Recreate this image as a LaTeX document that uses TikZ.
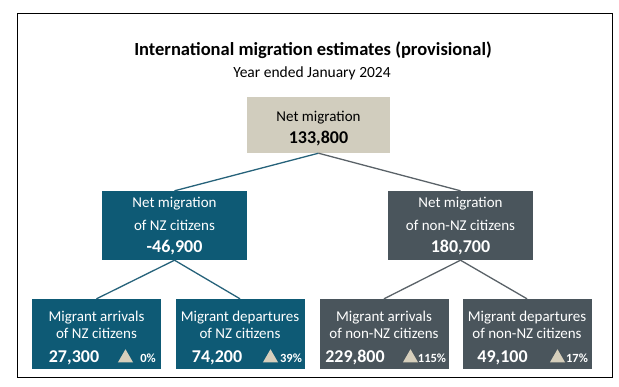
\documentclass[tikz,border=0pt]{standalone}
\usepackage{fontspec}
\setmainfont{Carlito}
\usetikzlibrary{shapes.geometric}
\definecolor{netbeige}{RGB}{209,205,190}
\definecolor{nzteal}{RGB}{14,90,117}
\definecolor{nongrey}{RGB}{74,85,92}
\definecolor{uptan}{RGB}{214,207,188}
\definecolor{nzline}{RGB}{38,98,122}
\definecolor{nonline}{RGB}{90,98,104}
\begin{document}
\begin{tikzpicture}[x=1pt,y=-1pt,
	netbox/.style={fill=netbeige,minimum width=143pt,minimum height=56pt,inner sep=0pt},
	midbox/.style={minimum width=145pt,minimum height=69pt,inner sep=0pt},
	leafbox/.style={minimum width=129pt,minimum height=70pt,inner sep=0pt},
	lbl/.style={anchor=base,inner sep=0pt,text=white,font=\fontsize{15}{18}\selectfont},
	bignum/.style={anchor=base,inner sep=0pt,text=white,font=\bfseries\fontsize{18}{21}\selectfont},
	pct/.style={anchor=base,inner sep=0pt,text=white,font=\bfseries\fontsize{12.5}{14}\selectfont},
	uptri/.style={regular polygon,regular polygon sides=3,minimum size=17.5pt,inner sep=0pt,fill=uptan},
	nzlink/.style={draw=nzline,line width=1.3pt},
	nonlink/.style={draw=nonline,line width=1.3pt}]
	\useasboundingbox (0,0) rectangle (619,386);
	\draw[line width=0.8pt] (17,13) rectangle (612,377);
	% heading
	\node[anchor=base,inner sep=0pt,font=\bfseries\fontsize{18.5}{22}\selectfont] (title) at (313,55) {International migration estimates (provisional)};
	\node[anchor=base,inner sep=0pt,font=\fontsize{15.5}{18}\selectfont] (subtitle) at (312,77) {Year ended January 2024};
	% boxes
	\node[netbox] (net) at (318.5,125) {};
	\node[midbox,fill=nzteal] (nz) at (174.5,225.5) {};
	\node[midbox,fill=nongrey] (non) at (460.5,225.5) {};
	\node[leafbox,fill=nzteal] (nzarr) at (96.5,334) {};
	\node[leafbox,fill=nzteal] (nzdep) at (240,334) {};
	\node[leafbox,fill=nongrey] (nonarr) at (384,334) {};
	\node[leafbox,fill=nongrey] (nondep) at (527,334) {};
	% links
	\draw[nzlink] (net.south) -- (nz.north);
	\draw[nonlink] (net.south) -- (non.north);
	\draw[nzlink] (nz.south) -- (nzarr.north);
	\draw[nzlink] (nz.south) -- (nzdep.north);
	\draw[nonlink] (non.south) -- (nonarr.north);
	\draw[nonlink] (non.south) -- (nondep.north);
	% texts
	\node[lbl,text=black] (netlbl) at (318.5,121) {Net migration};
	\node[bignum,text=black] (netnum) at (318.5,143) {133,800};
	\node[lbl] (nzlbla) at (174.5,207.5) {Net migration};
	\node[lbl] (nzlblb) at (174.5,230.5) {of NZ citizens};
	\node[bignum] (nznum) at (174.5,252) {-46,900};
	\node[lbl] (nonlbla) at (460.5,207.5) {Net migration};
	\node[lbl] (nonlblb) at (460.5,230.5) {of non-NZ citizens};
	\node[bignum] (nonnum) at (460.5,252) {180,700};
	\node[lbl] (nzarra) at (96.5,321.5) {Migrant arrivals};
	\node[lbl] (nzarrb) at (96.5,338) {of NZ citizens};
	\node[bignum] (nzarrnum) at (74,362) {27,300};
	\node[uptri] (nzarrup) at (125.5,358) {};
	\node[pct] (nzarrpct) at (148,362) {0\%};
	\node[lbl] (nzdepa) at (240,321.5) {Migrant departures};
	\node[lbl] (nzdepb) at (240,338) {of NZ citizens};
	\node[bignum] (nzdepnum) at (217,362) {74,200};
	\node[uptri] (nzdepup) at (270.5,358) {};
	\node[pct] (nzdeppct) at (291,362) {39\%};
	\node[lbl] (nonarra) at (384,321.5) {Migrant arrivals};
	\node[lbl] (nonarrb) at (384,338) {of non-NZ citizens};
	\node[bignum] (nonarrnum) at (355,362) {229,800};
	\node[uptri] (nonarrup) at (410.5,358) {};
	\node[pct] (nonarrpct) at (432,362) {115\%};
	\node[lbl] (nondepa) at (527,321.5) {Migrant departures};
	\node[lbl] (nondepb) at (527,338) {of non-NZ citizens};
	\node[bignum] (nondepnum) at (502.5,362) {49,100};
	\node[uptri] (nondepup) at (557.5,358) {};
	\node[pct] (nondeppct) at (577,362) {17\%};
\end{tikzpicture}
\end{document}
